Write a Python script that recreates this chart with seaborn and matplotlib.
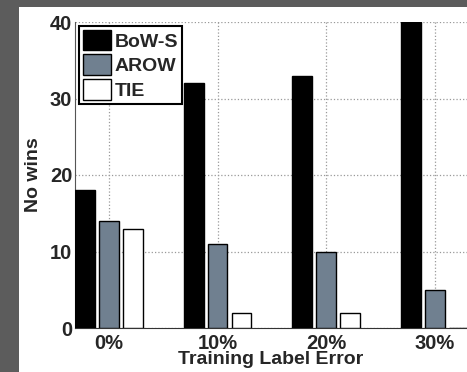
import matplotlib
matplotlib.use("Agg")
import matplotlib.pyplot as plt
from matplotlib.patches import Rectangle
import seaborn as sns
import pandas as pd

categories = ["0%", "10%", "20%", "30%"]
series = ["BoW-S", "AROW", "TIE"]
bow_s = [18, 32, 33, 40]
arow = [14, 11, 10, 5]
tie = [13, 2, 2, 0]
colors = ["#000000", "#708090", "#ffffff"]

rows = []
for name, vals in zip(series, [bow_s, arow, tie]):
    for c, v in zip(categories, vals):
        rows.append({"err": c, "method": name, "wins": v})
df = pd.DataFrame(rows)

sns.set_style("white")
plt.rcParams["font.family"] = ["Liberation Sans", "DejaVu Sans"]
plt.rcParams["font.weight"] = "bold"

fig = plt.figure(figsize=(4.67, 3.72), dpi=100)
fig.patch.set_facecolor("#5c5c5c")
fig.add_artist(Rectangle((19 / 467, 0), 1 - 19 / 467, (372 - 7) / 372,
                         transform=fig.transFigure, facecolor="white",
                         edgecolor="none", zorder=0))
ax = fig.add_axes([75 / 467, (372 - 328) / 372, 1 - 75 / 467, (328 - 22) / 372])

sns.barplot(data=df, x="err", y="wins", hue="method", order=categories,
            hue_order=series, palette=colors, width=0.66, gap=0.17,
            edgecolor="black", linewidth=1.0, saturation=1, ax=ax, zorder=3)

ax.set_xlim(-0.313, 3.297)
ax.set_ylim(0, 40)
ax.set_yticks([0, 10, 20, 30, 40])
ax.grid(True, linestyle=":", color="#999999", linewidth=0.9, zorder=0)
ax.set_axisbelow(True)
for s in ["top", "right"]:
    ax.spines[s].set_visible(False)
ax.spines["left"].set_color("#555555")
ax.spines["bottom"].set_color("#333333")
ax.tick_params(axis="both", labelsize=14.5, direction="in", length=3, width=0.8)
ax.tick_params(axis="x", pad=4)
ax.tick_params(axis="y", pad=2)
for lab in ax.get_xticklabels() + ax.get_yticklabels():
    lab.set_fontweight("bold")
ax.set_xlabel("Training Label Error", fontsize=14, fontweight="bold", labelpad=-1)
ax.set_ylabel("No wins", fontsize=14, fontweight="bold", labelpad=6)

leg = ax.legend(loc="upper left", fontsize=14, frameon=True, fancybox=False,
                framealpha=1, edgecolor="black", handlelength=1.45,
                handleheight=1.25, handletextpad=0.2, labelspacing=0.2,
                borderpad=0.2, borderaxespad=0.2)
leg.get_frame().set_linewidth(1.5)
for t in leg.get_texts():
    t.set_fontweight("bold")

fig.savefig("out.png", dpi=100, facecolor=fig.get_facecolor())
